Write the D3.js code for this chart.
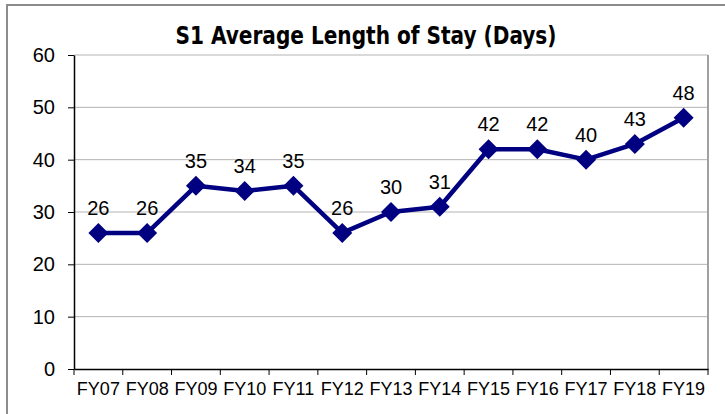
<!DOCTYPE html>
<meta charset="utf-8">
<style>
body { margin: 0; background: #fff; }
svg { display: block; }
.axis text { font: 18px "Liberation Sans", Arial, sans-serif; fill: #000; }
.axis.yax text { font-size: 20px; }
.axis path, .axis line { stroke: #000; }
.grid line { stroke: #b4b4b4; }
.lbl { font: 20px "Liberation Sans", Arial, sans-serif; fill: #000; }
.title { font: bold 24px "Liberation Sans Narrow", "DejaVu Sans Condensed", sans-serif; }
</style>
<body>
<script src="https://cdn.jsdelivr.net/npm/d3@7"></script>
<script>
var years = ["FY07", "FY08", "FY09", "FY10", "FY11", "FY12", "FY13", "FY14", "FY15", "FY16", "FY17", "FY18", "FY19"];
var stay = [26, 26, 35, 34, 35, 26, 30, 31, 42, 42, 40, 43, 48];
var yTicks = [0, 10, 20, 30, 40, 50, 60];

var W = 725, H = 414;
var margin = {top: 55, right: 17, bottom: 45, left: 74},
    width = W - margin.left - margin.right,
    height = H - margin.top - margin.bottom;

var svg = d3.select("body").append("svg")
    .attr("width", W)
    .attr("height", H);

// chart frame
svg.append("rect")
    .attr("x", 7).attr("y", 5)
    .attr("width", 760).attr("height", 430)
    .attr("fill", "none")
    .attr("stroke", "#8c8c8c")
    .attr("stroke-width", 2);

svg.append("text")
    .attr("class", "title")
    .attr("x", 366).attr("y", 44)
    .attr("text-anchor", "middle")
    .attr("textLength", 381)
    .attr("lengthAdjust", "spacingAndGlyphs")
    .text("S1 Average Length of Stay (Days)");

var g = svg.append("g")
    .attr("transform", "translate(" + margin.left + "," + margin.top + ")");

var x = d3.scaleBand().domain(years).range([0, width]);
var y = d3.scaleLinear().domain([0, 60]).range([height, 0]);

// gridlines
g.append("g").attr("class", "grid")
  .selectAll("line")
  .data(yTicks.slice(1))
  .enter().append("line")
    .attr("x1", 0).attr("x2", width)
    .attr("y1", function(d) { return y(d); })
    .attr("y2", function(d) { return y(d); });

// plot right border
g.append("line")
    .attr("x1", width).attr("x2", width)
    .attr("y1", 0).attr("y2", height)
    .attr("stroke", "#a0a0a0")
    .attr("stroke-width", 2);

g.append("g")
    .attr("class", "axis yax")
    .call(d3.axisLeft(y).tickValues(yTicks).tickSize(6).tickSizeOuter(0).tickPadding(13))
    .call(function(a) { a.select(".domain").attr("stroke-width", 1.5); });

// x axis with ticks at category boundaries
var xa = g.append("g")
    .attr("class", "axis")
    .attr("transform", "translate(0," + height + ")")
    .call(d3.axisBottom(x).tickSize(0).tickPadding(10));
xa.select(".domain").attr("stroke-width", 1.5);
xa.selectAll(".tick text").attr("dy", "0.9em");
xa.selectAll(".bnd")
  .data(d3.range(years.length + 1))
  .enter().append("line")
    .attr("x1", function(i) { return i * x.step(); })
    .attr("x2", function(i) { return i * x.step(); })
    .attr("y1", 0).attr("y2", 6)
    .attr("stroke", "#000");

var cx = function(d, i) { return x(years[i]) + x.bandwidth() / 2; };

var line = d3.line()
    .x(cx)
    .y(function(d) { return y(d); });

g.append("path")
    .datum(stay)
    .attr("fill", "none")
    .attr("stroke", "#000080")
    .attr("stroke-width", 4.5)
    .attr("stroke-linejoin", "round")
    .attr("d", line);

var diamond = d3.symbol().type(d3.symbolSquare).size(200);
g.selectAll(".pt")
  .data(stay)
  .enter().append("path")
    .attr("fill", "#000080")
    .attr("d", diamond)
    .attr("transform", function(d, i) { return "translate(" + cx(d, i) + "," + y(d) + ") rotate(45)"; });

g.selectAll(".lbl")
  .data(stay)
  .enter().append("text")
    .attr("class", "lbl")
    .attr("x", cx)
    .attr("y", function(d) { return y(d) - 18; })
    .attr("text-anchor", "middle")
    .text(function(d) { return d; });
</script>
